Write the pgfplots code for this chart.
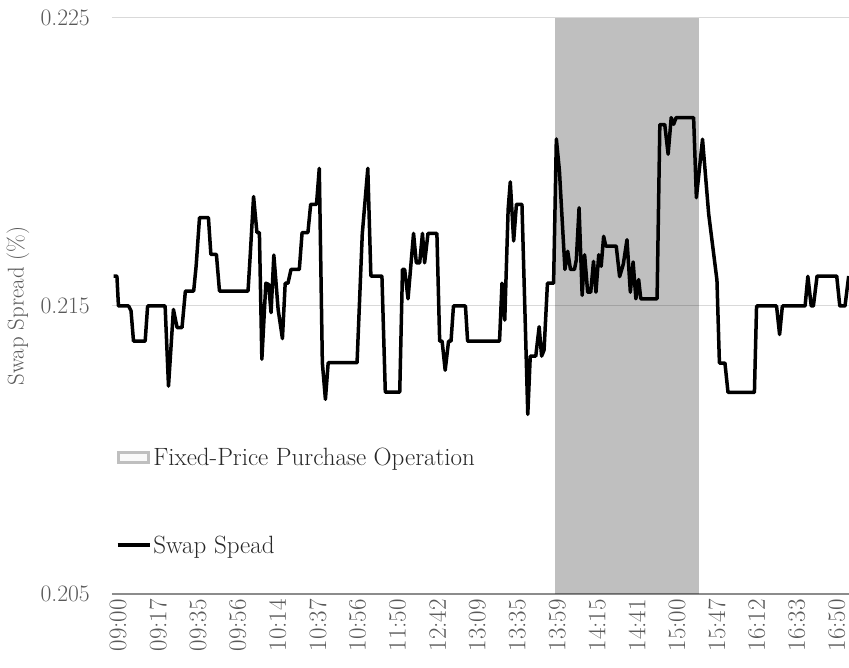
\documentclass[border=0pt]{standalone}
\usepackage{pgfplots}
\pgfplotsset{compat=1.18}
\definecolor{gridc}{RGB}{217,217,217}
\definecolor{axisc}{RGB}{140,140,140}
\definecolor{tickc}{RGB}{89,89,89}
\definecolor{legc}{RGB}{40,40,40}
\definecolor{swatch}{RGB}{191,191,191}

\begin{document}
\begin{tikzpicture}
\begin{axis}[
  scale only axis, width=737pt, height=576pt,
  xmin=-0.5, xmax=239.5, ymin=0.205, ymax=0.225,
  xtick={1.5,14.5,...,235.5},
  xticklabels={09:00,09:17,09:35,09:56,10:14,10:37,10:56,11:50,12:42,13:09,13:35,13:59,14:15,14:41,15:00,15:47,16:12,16:33,16:50},
  ytick={0.205,0.215,0.225}, yticklabels={0.205,0.215,0.225},
  ymajorgrids, grid style={draw=gridc, line width=1pt},
  axis x line*=bottom, axis y line*=left,
  x axis line style={draw=axisc, line width=1.5pt, -},
  y axis line style={draw=none},
  major tick length=0pt,
  tick label style={text=tickc},
  xticklabel style={rotate=90, anchor=east, inner xsep=5pt, inner ysep=0pt, font=\fontsize{25}{29}\selectfont},
  yticklabel style={inner sep=0pt, xshift=-22pt, font=\fontsize{23.6}{28}\selectfont},
  ylabel={Swap Spread (\%)},
  every axis y label/.style={at={(axis description cs:-0.1275,0.5)}, rotate=90, anchor=center,
    font=\fontsize{22.8}{27}\selectfont, text=tickc},
  legend style={at={(axis description cs:0.005,0.258)}, anchor=north west, draw=none, fill=none,
    inner sep=0pt, font=\fontsize{25}{29}\selectfont, text=legc, row sep=65pt,
    nodes={inner sep=2pt}},
  legend cell align=left,
]
\addplot[fill=black, fill opacity=0.25, draw=none,
  legend image code/.code={\draw[fill=swatch!35, draw=swatch, line width=3pt] (1pt,-5pt) rectangle (31pt,5pt);}]
  coordinates {(143.6,0.205) (143.6,0.225) (190.8,0.225) (190.8,0.205)};
\addlegendentry{Fixed-Price Purchase Operation}
\addplot[black, line width=3.5pt, line join=round,
  legend image code/.code={\draw[black, line width=3.5pt] (0pt,0pt) -- (32pt,0pt);}]
  coordinates {
(0.0,0.21604) (1.1,0.21604) (1.6,0.21500) (4.9,0.21500) (5.7,0.21483) (6.5,0.21378)
(10.3,0.21378) (11.1,0.21500) (16.8,0.21500) (17.9,0.21222) (19.5,0.21488) (20.7,0.21425)
(22.3,0.21425) (23.4,0.21552) (26.1,0.21552) (26.9,0.21639) (28.0,0.21807) (30.9,0.21807)
(31.7,0.21679) (33.5,0.21679) (34.5,0.21552) (43.8,0.21552) (44.5,0.21674) (45.6,0.21880)
(46.7,0.21755) (47.5,0.21755) (48.3,0.21315) (49.6,0.21579) (50.5,0.21575) (51.3,0.21477)
(52.2,0.21677) (53.6,0.21488) (55.0,0.21387) (55.9,0.21579) (56.8,0.21579) (57.8,0.21627)
(60.5,0.21627) (61.4,0.21755) (63.3,0.21755) (64.2,0.21853) (66.1,0.21853) (67.0,0.21978)
(68.0,0.21303) (69.0,0.21176) (69.9,0.21303) (79.3,0.21303) (81.0,0.21750) (82.8,0.21978)
(83.8,0.21604) (87.4,0.21604) (88.5,0.21201) (93.2,0.21201) (94.1,0.21627) (94.8,0.21627)
(95.9,0.21525) (97.7,0.21752) (98.6,0.21650) (99.7,0.21650) (100.6,0.21752) (101.3,0.21650)
(102.4,0.21752) (105.3,0.21752) (106.2,0.21378) (107.0,0.21378) (108.0,0.21277) (109.1,0.21378)
(109.9,0.21378) (110.7,0.21500) (114.6,0.21500) (115.3,0.21378) (125.7,0.21378) (126.5,0.21579)
(127.4,0.21451) (128.5,0.21836) (129.2,0.21931) (130.3,0.21726) (131.2,0.21853) (133.0,0.21853)
(134.9,0.21124) (135.7,0.21326) (137.5,0.21326) (138.6,0.21428) (139.4,0.21326) (140.2,0.21347)
(141.3,0.21579) (143.3,0.21579) (144.2,0.22080) (145.2,0.21970) (147.0,0.21627) (147.9,0.21690)
(148.8,0.21627) (150.1,0.21627) (150.7,0.21660) (151.6,0.21841) (152.6,0.21537) (153.4,0.21678)
(154.4,0.21548) (155.4,0.21548) (156.3,0.21655) (157.1,0.21548) (158.0,0.21678) (158.8,0.21638)
(159.6,0.21742) (160.3,0.21708) (163.7,0.21708) (164.8,0.21602) (166.0,0.21645) (167.2,0.21730)
(168.3,0.21548) (169.2,0.21653) (170.1,0.21525) (171.0,0.21592) (171.7,0.21525) (177.0,0.21525)
(177.9,0.22130) (179.5,0.22130) (180.6,0.22027) (181.6,0.22154) (182.4,0.22131) (183.2,0.22154)
(188.9,0.22154) (189.8,0.21876) (191.8,0.22079) (193.8,0.21820) (196.5,0.21590) (197.3,0.21302)
(199.1,0.21302) (200.1,0.21200) (208.7,0.21200) (209.4,0.21500) (215.9,0.21500) (216.9,0.21401)
(217.8,0.21500) (225.2,0.21500) (226.1,0.21603) (227.2,0.21500) (227.9,0.21500) (229.1,0.21604)
(235.5,0.21604) (236.5,0.21500) (238.2,0.21500) (239.4,0.21604)
  };
\addlegendentry{Swap Spead}
\end{axis}
\pgfresetboundingbox
\path (current axis.south west) ++(-112pt,-73pt) rectangle ([yshift=18pt]current axis.north east);
\end{tikzpicture}
\end{document}
